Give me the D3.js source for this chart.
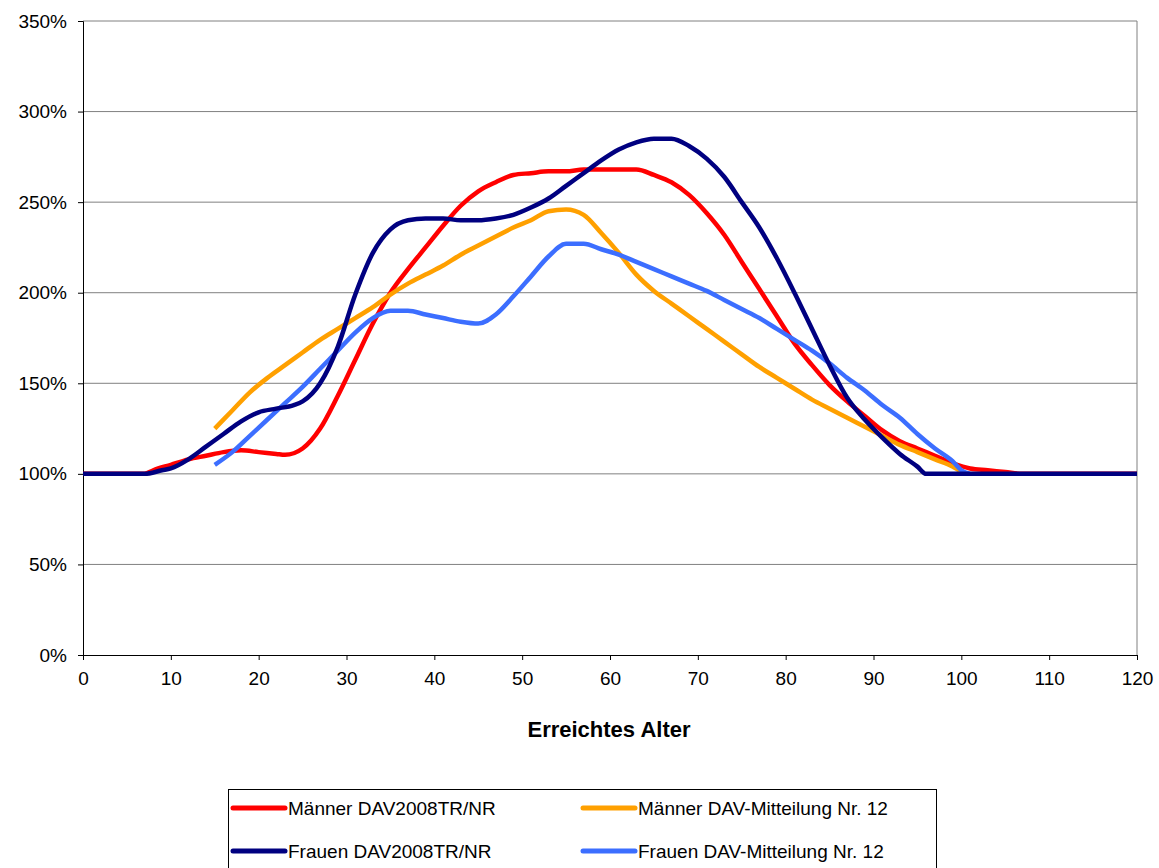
<!DOCTYPE html>
<html><head><meta charset="utf-8">
<script src="https://cdn.jsdelivr.net/npm/d3@7"></script>
<style>body{margin:0;background:#fff;font-family:"Liberation Sans",Arial,sans-serif;}</style>
</head><body><svg id="chart" width="1159" height="868"></svg>
<script>
const maennerDav = [[0,100],[7,100],[8,102],[10,105],[12,108],[14,110],[16,112],[18,113],[20,112],[22,111],[23,110.5],[25,114],[27,125],[29,143],[31,163],[33,183],[35,200],[37,213],[39,225],[41,237],[43,248],[45,256],[47,261],[49,265],[51,266],[53,267],[55,267],[57,268],[59,268],[61,268],[63,268],[65,265],[67,261],[69,254],[71,244],[73,232],[75,217],[77,202],[79,187],[81,172],[83,160],[85,149],[87,140],[89,132],[91,124],[93,118],[95,114],[97,110],[99,106],[101,103],[103,102],[105,101],[107,100],[120,100]];
const frauenDav = [[0,100],[7,100],[9,102],[10,103],[12,108],[14,115],[16,122],[18,129],[20,134],[22,136],[24,138],[25,140],[27,150],[29,170],[31,199],[33,222],[35,235],[37,240],[39,241],[41,241],[43,240],[45,240],[47,241],[49,243],[51,247],[53,252],[55,259],[57,266],[59,273],[61,279],[63,283],[65,285],[67,285],[69,281],[71,274],[73,264],[75,250],[77,236],[79,219],[81,200],[83,180],[85,160],[87,142],[89,130],[91,120],[93,111],[95,104],[96,100],[120,100]];
const maennerMitt = [[15,125],[17,135],[19,145],[21,153],[23,160],[25,167],[27,174],[29,180],[31,186],[33,192],[35,199],[37,205],[39,210],[41,215],[43,221],[45,226],[47,231],[49,236],[51,240],[53,245],[55,246],[57,243],[59,233],[61,222],[63,210],[65,201],[67,194],[69,187],[71,180],[73,173],[75,166],[77,159],[79,153],[81,147],[83,141],[85,136],[87,131],[89,126],[91,121],[93,116],[95,112],[97,108],[99,104],[100,101]];
const frauenMitt = [[15,105],[17,112],[19,121],[21,130],[23,139],[25,148],[27,158],[29,168],[31,178],[33,186],[35,190],[37,190],[39,188],[41,186],[43,184],[45,183],[47,188],[49,198],[51,209],[53,220],[55,227],[57,227],[59,224],[61,221],[63,217],[65,213],[67,209],[69,205],[71,201],[73,196],[75,191],[77,186],[79,180],[81,174],[83,168],[85,161],[87,153],[89,146],[91,138],[93,131],[95,122],[97,114],[99,107],[100,102],[101,100]];
const seriesNames = ["Männer DAV2008TR/NR","Männer DAV-Mitteilung Nr. 12","Frauen DAV2008TR/NR","Frauen DAV-Mitteilung Nr. 12"];
const seriesColors = ["#ff0000","#ffa000","#000080","#3c6eff"];
const seriesData = [maennerDav, maennerMitt, frauenDav, frauenMitt];
const xTicks = d3.range(0,121,10);
const yTicks = d3.range(0,351,50);

const svg = d3.select("#chart");
const L=83, R=1137, T=21, B=655;
const x = d3.scaleLinear().domain([0,120]).range([L,R]);
const y = d3.scaleLinear().domain([0,350]).range([B,T]);

svg.append("g").selectAll("line").data(yTicks.filter(d=>d>0)).join("line")
  .attr("x1",L).attr("x2",R).attr("y1",d=>y(d)).attr("y2",d=>y(d))
  .attr("stroke","#808080").attr("stroke-width",1);
svg.append("line").attr("x1",R).attr("x2",R).attr("y1",T).attr("y2",B).attr("stroke","#808080");

const yAxis = svg.append("g").attr("transform",`translate(${L},0)`)
  .call(d3.axisLeft(y).tickValues(yTicks).tickFormat(d=>d+"%").tickSize(5));
const xAxis = svg.append("g").attr("transform",`translate(0,${B})`)
  .call(d3.axisBottom(x).tickValues(xTicks).tickSize(5));
[xAxis,yAxis].forEach(a=>{
  a.selectAll("path,line").attr("stroke","#000");
  a.selectAll("text").attr("font-size",19).attr("font-family","Liberation Sans, Arial").attr("fill","#000");
});
yAxis.selectAll("text").attr("x",-16);
xAxis.selectAll("text").attr("y",17);

const line = d3.line().x(d=>x(d[0])).y(d=>y(d[1])).curve(d3.curveMonotoneX);
svg.append("g").selectAll("path").data([0,1,3,2]).join("path")
  .attr("d",i=>line(seriesData[i])).attr("fill","none")
  .attr("stroke",i=>seriesColors[i]).attr("stroke-width",4.5).attr("stroke-linejoin","round");

svg.append("text").attr("x",609).attr("y",737).attr("text-anchor","middle")
  .attr("font-size",22).attr("font-weight","bold").text("Erreichtes Alter");

const lg = svg.append("g");
lg.append("rect").attr("x",228.5).attr("y",789.5).attr("width",708).attr("height",80)
  .attr("fill","#fff").attr("stroke","#000");
seriesNames.forEach((n,i)=>{
  const cx = 233 + (i%2)*350, cy = 808 + Math.floor(i/2)*43;
  lg.append("line").attr("x1",cx).attr("x2",cx+52).attr("y1",cy).attr("y2",cy)
    .attr("stroke",seriesColors[i]).attr("stroke-width",5).attr("stroke-linecap","round");
  lg.append("text").attr("x",cx+55).attr("y",cy+7).attr("font-size",19).text(n);
});
</script></body></html>
